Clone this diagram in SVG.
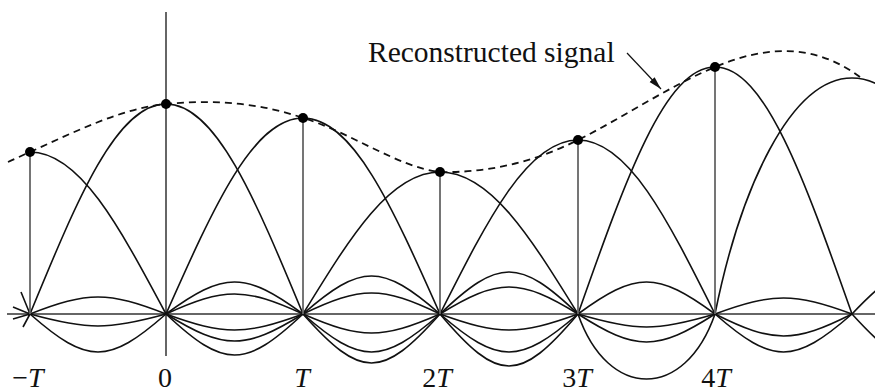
<svg xmlns="http://www.w3.org/2000/svg" width="875" height="392" viewBox="0 0 875 392">
<style>
.axis{stroke:#666;stroke-width:2;fill:none}
.stem{stroke:#666;stroke-width:1.8;fill:none}
.curve{stroke:#111;stroke-width:1.6;fill:none}
.recon{stroke:#111;stroke-width:1.8;fill:none;stroke-dasharray:7 5}
.dot{fill:#000}
.lbl{font-family:"Liberation Serif","Times New Roman",serif;font-size:28px;fill:#111}
.it{font-style:italic}
</style>
<defs>
<marker id="ah" markerUnits="userSpaceOnUse" markerWidth="14" markerHeight="8" refX="13" refY="3.5" orient="auto">
<path d="M0,0 L13,3.5 L0,7 Z" fill="#111"/>
</marker>
</defs>
<rect width="875" height="392" fill="#fff"/>
<g id="axes">
<line class="axis" x1="7" y1="314" x2="875" y2="314"/>
<line class="axis" x1="166" y1="12" x2="166" y2="356"/>
</g>
<g id="connectors">
<g id="main-lobes">
<path class="curve" d="M30,152 C79.4,152 118.4,224.9 166,314"/>
<path class="curve" d="M30,314 C77.6,198.5 116.6,104 166,104 C215.8,104 255.05,198.5 303,314"/>
<path class="curve" d="M166,314 C213.95,206.2 253.2,118 303,118 C352.8,118 392.05,206.2 440,314"/>
<path class="curve" d="M303,314 C350.95,235.9 390.2,172 440,172 C490.1,172 529.7,235.9 578,314"/>
<path class="curve" d="M440,314 C488.3,218.3 527.85,140 578,140 C627.8,140 667.05,218.3 715,314"/>
<path class="curve" d="M578,314 C625.95,178.15 665.2,67 715,67 C764.8,67 804.05,178.15 852,314"/>
<path class="curve" d="M715,314 C740,190 790,78 852,78 C914,78 964,190 989,314"/>
</g>
<g id="side-lobes">
<path class="curve" d="M30,314 C87.7,291.33 108.3,291.33 166,314"/>
<path class="curve" d="M30,314 C87.7,330 108.3,330 166,314"/>
<path class="curve" d="M30,314 C87.7,364.67 108.3,364.67 166,314"/>
<path class="curve" d="M166,314 C224.1,271.33 244.9,271.33 303,314"/>
<path class="curve" d="M166,314 C224.1,287.33 244.9,287.33 303,314"/>
<path class="curve" d="M166,314 C224.1,335.33 244.9,335.33 303,314"/>
<path class="curve" d="M166,314 C224.1,350 244.9,350 303,314"/>
<path class="curve" d="M166,314 C224.1,368.67 244.9,368.67 303,314"/>
<path class="curve" d="M303,314 C361.1,263.33 381.9,263.33 440,314"/>
<path class="curve" d="M303,314 C361.1,286 381.9,286 440,314"/>
<path class="curve" d="M303,314 C361.1,339.33 381.9,339.33 440,314"/>
<path class="curve" d="M303,314 C361.1,364.67 381.9,364.67 440,314"/>
<path class="curve" d="M303,314 C361.1,379.33 381.9,379.33 440,314"/>
<path class="curve" d="M440,314 C498.6,258 519.4,258 578,314"/>
<path class="curve" d="M440,314 C498.6,278 519.4,278 578,314"/>
<path class="curve" d="M440,314 C498.6,335.33 519.4,335.33 578,314"/>
<path class="curve" d="M440,314 C498.6,364.67 519.4,364.67 578,314"/>
<path class="curve" d="M440,314 C498.6,383.33 519.4,383.33 578,314"/>
<path class="curve" d="M578,314 C636.1,271.33 656.9,271.33 715,314"/>
<path class="curve" d="M578,314 C636.1,331.33 656.9,331.33 715,314"/>
<path class="curve" d="M578,314 C636.1,351.33 656.9,351.33 715,314"/>
<path class="curve" d="M578,314 C608,400.67 685,400.67 715,314"/>
<path class="curve" d="M715,314 C773.1,292.67 793.9,292.67 852,314"/>
<path class="curve" d="M715,314 C773.1,343.33 793.9,343.33 852,314"/>
<path class="curve" d="M715,314 C773.1,364.67 793.9,364.67 852,314"/>
<path class="curve" d="M852,314 C910.1,252.67 930.9,252.67 989,314"/>
<path class="curve" d="M852,314 C910.1,378 930.9,378 989,314"/>
<path class="curve" d="M30,314 L21,292 M30,314 L23,327 M30,314 L13,307 M30,314 L13,319"/>
</g>
<path id="reconstructed" class="recon" d="M8,162 C15,159 23,155 30,152 C75,131.75 121,108.5 166,104 C211,99.5 258,102.25 303,118 C349,131.8 400,168 440,172 C486,173 532,163 578,140 C624,117 669,86.3 715,67 C763,46.8 812,41.5 860,77"/>
<line id="pointer" x1="627" y1="53" x2="661" y2="89" stroke="#111" stroke-width="1.2" marker-end="url(#ah)"/>
</g>
<g id="sample-m1"><line class="stem" x1="30" y1="152" x2="30" y2="314"/><circle class="dot" cx="30" cy="152" r="5"/><text class="lbl" x="28" y="387" text-anchor="middle">−<tspan class="it">T</tspan></text></g>
<g id="sample-0"><circle class="dot" cx="166" cy="104" r="5"/><text class="lbl" x="165" y="387" text-anchor="middle">0</text></g>
<g id="sample-1"><line class="stem" x1="303" y1="118" x2="303" y2="314"/><circle class="dot" cx="303" cy="118" r="5"/><text class="lbl it" x="302" y="387" text-anchor="middle">T</text></g>
<g id="sample-2"><line class="stem" x1="440" y1="172" x2="440" y2="314"/><circle class="dot" cx="440" cy="172" r="5"/><text class="lbl" x="437" y="387" text-anchor="middle">2<tspan class="it">T</tspan></text></g>
<g id="sample-3"><line class="stem" x1="578" y1="140" x2="578" y2="314"/><circle class="dot" cx="578" cy="140" r="5"/><text class="lbl" x="577" y="387" text-anchor="middle">3<tspan class="it">T</tspan></text></g>
<g id="sample-4"><line class="stem" x1="715" y1="67" x2="715" y2="314"/><circle class="dot" cx="715" cy="67" r="5"/><text class="lbl" x="716" y="387" text-anchor="middle">4<tspan class="it">T</tspan></text></g>
<g id="label"><text class="lbl" x="368" y="62" style="font-size:29.5px">Reconstructed signal</text></g>
</svg>
